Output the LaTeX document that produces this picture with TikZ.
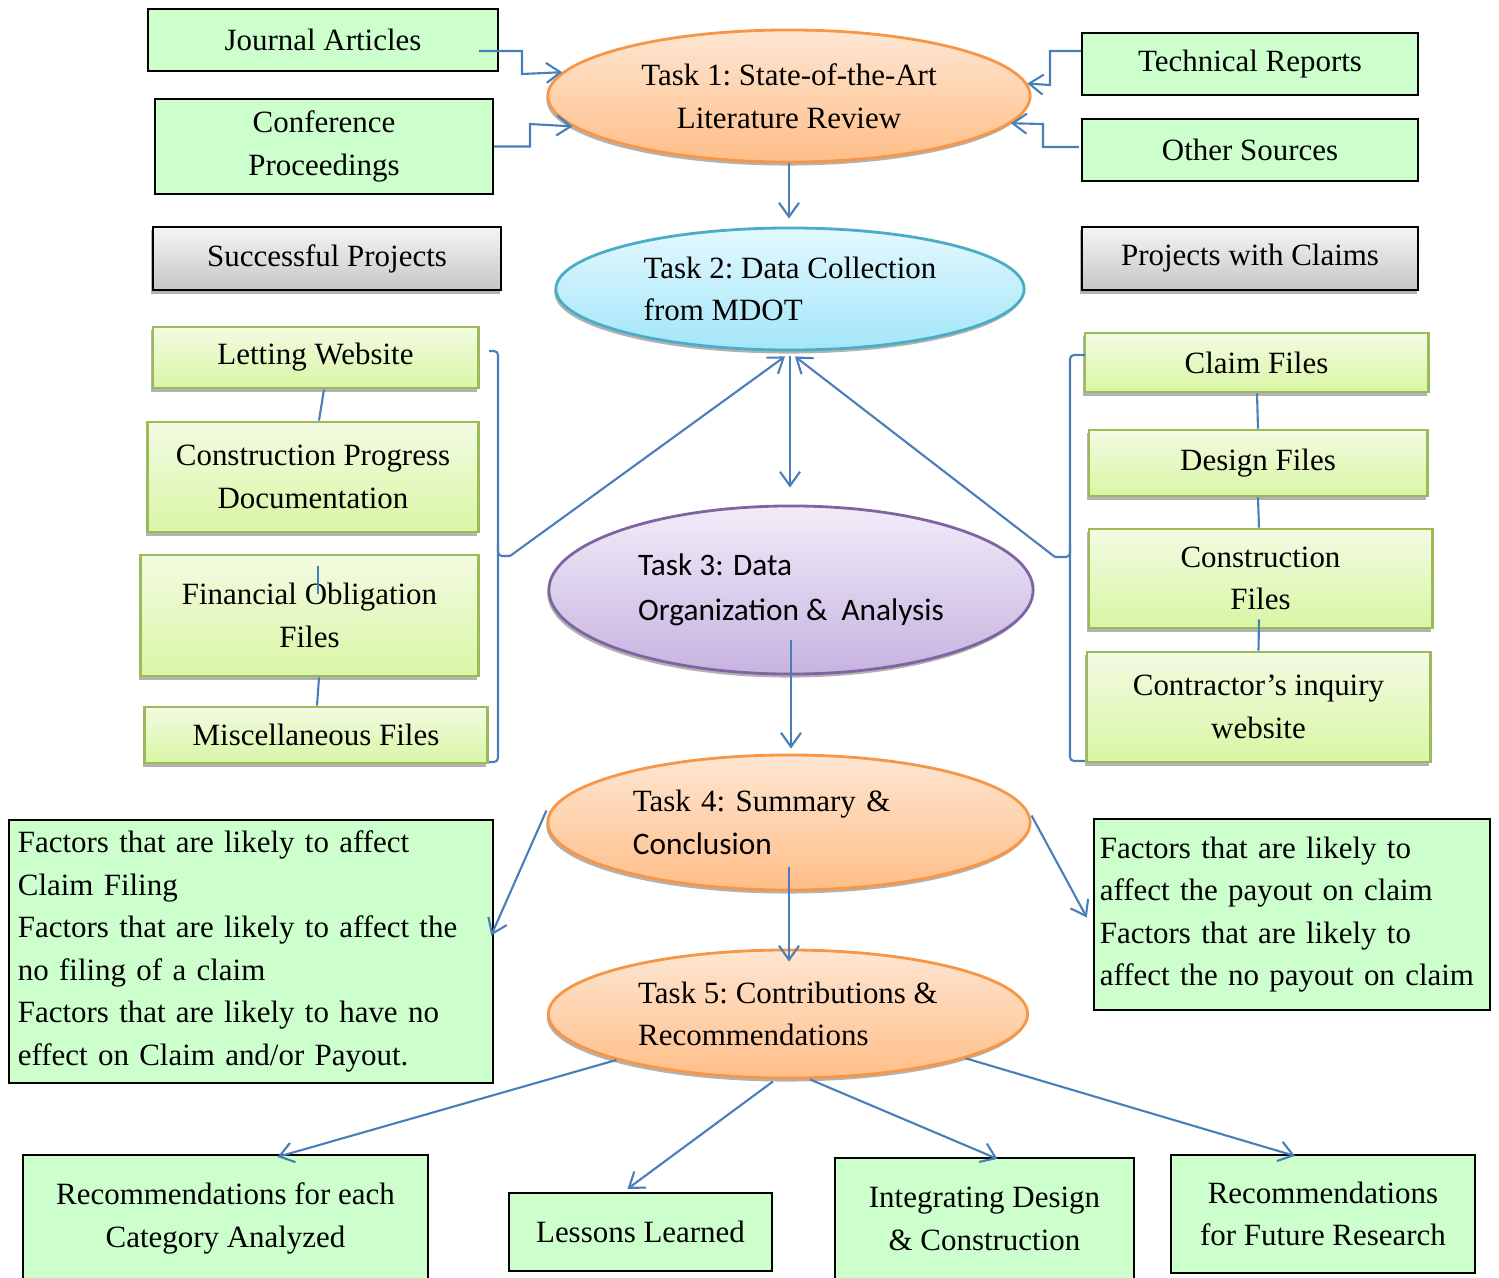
\documentclass[tikz,border=0pt]{standalone}
\usepackage{fontspec}
\setmainfont{Liberation Serif}
\newfontfamily\calibri{Carlito}
\usetikzlibrary{shapes.geometric,arrows.meta,shadows}

\definecolor{linkblue}{HTML}{4A7EBB}
\definecolor{srcgreen}{HTML}{CCFFCC}
\definecolor{filetop}{HTML}{F3FBE2}
\definecolor{filebot}{HTML}{D8F6A4}
\definecolor{fileedge}{HTML}{9BBB59}
\definecolor{orgtop}{HTML}{FEE6D2}
\definecolor{orgbot}{HTML}{FFBE88}
\definecolor{orgedge}{HTML}{F79646}
\definecolor{cyntop}{HTML}{E4F8FE}
\definecolor{cynbot}{HTML}{A2E6F9}
\definecolor{cynedge}{HTML}{4BACC6}
\definecolor{purtop}{HTML}{F1ECF8}
\definecolor{purbot}{HTML}{C6B3E0}
\definecolor{puredge}{HTML}{8064A2}

\begin{document}
\begin{tikzpicture}[x=0.01cm,y=-0.01cm,
	every node/.style={font=\fontsize{8.8}{12.1}\selectfont\frenchspacing, inner sep=0pt},
	castshadow/.style={drop shadow={shadow xshift=-0.015cm, shadow yshift=-0.035cm, fill=black!60}},
	source/.style={draw=black, line width=0.6pt, fill=srcgreen, align=center},
	group/.style={draw=black, line width=0.6pt, top color=gray!8, bottom color=gray!45, castshadow, align=center},
	file/.style={draw=fileedge, line width=0.8pt, top color=filetop, bottom color=filebot, castshadow, align=center},
	task/.style={ellipse, line width=0.8pt, castshadow},
	link/.style={linkblue, line width=0.6pt},
	arr/.style={link, -{Straight Barb[length=0.14cm, width=0.2cm]}},
]
	\useasboundingbox (0,0) rectangle (1499,1278);

	% literature sources
	\node[source, minimum width=3.50cm, minimum height=0.62cm] (journal) at (323,40) {Journal Articles};
	\node[source, minimum width=3.38cm, minimum height=0.95cm] (conf) at (324,146.5) {Conference\\Proceedings};
	\node[source, minimum width=3.36cm, minimum height=0.62cm] (techrep) at (1250,64) {Technical Reports};
	\node[source, minimum width=3.36cm, minimum height=0.62cm] (other) at (1250,150) {Other Sources};

	% the tasks
	\node[task, draw=orgedge, top color=orgtop, bottom color=orgbot, minimum width=4.82cm, minimum height=1.32cm, align=center] (task1) at (789,96) {Task 1: State-of-the-Art\\Literature Review};
	\node[task, draw=cynedge, top color=cyntop, bottom color=cynbot, minimum width=4.68cm, minimum height=1.22cm, align=left] (task2) at (790,289) {Task 2: Data Collection\\from MDOT};
	\node[task, draw=puredge, top color=purtop, bottom color=purbot, minimum width=4.84cm, minimum height=1.68cm, align=left, font=\calibri\fontsize{8.9}{12.8}\selectfont] (task3) at (791,590) {Task 3: Data\\Organization \& \ Analysis};
	\node[task, draw=orgedge, top color=orgtop, bottom color=orgbot, minimum width=4.82cm, minimum height=1.35cm, text width=3.12cm, align=left] (task4) at (789,822.5) {Task 4: Summary \&\\{\calibri\fontsize{8.9}{12.1}\selectfont Conclusion}};
	\node[task, draw=orgedge, top color=orgtop, bottom color=orgbot, minimum width=4.79cm, minimum height=1.28cm, align=left] (task5) at (788,1014) {Task 5: Contributions \&\\Recommendations};

	% project groups
	\node[group, minimum width=3.48cm, minimum height=0.63cm] (success) at (327,258.5) {Successful Projects};
	\node[group, minimum width=3.36cm, minimum height=0.63cm] (claims) at (1250,258.5) {Projects with Claims};

	% files of successful projects
	\node[file, minimum width=3.25cm, minimum height=0.61cm] (letting) at (315.5,357.5) {Letting Website};
	\node[file, minimum width=3.30cm, minimum height=1.10cm] (progress) at (313,477) {Construction Progress\\Documentation};
	\node[file, minimum width=3.37cm, minimum height=1.21cm] (finance) at (309.5,615.5) {Financial Obligation\\Files};
	\node[file, minimum width=3.42cm, minimum height=0.56cm] (misc) at (316,735) {Miscellaneous Files};

	% files of projects with claims
	\node[file, minimum width=3.43cm, minimum height=0.59cm] (claimf) at (1256.5,362.5) {Claim Files};
	\node[file, minimum width=3.38cm, minimum height=0.66cm] (design) at (1258,463) {Design Files};
	\node[file, minimum width=3.43cm, minimum height=0.99cm] (constr) at (1260.5,578.5) {Construction\\Files};
	\node[file, minimum width=3.43cm, minimum height=1.10cm] (inquiry) at (1258.5,707) {Contractor’s inquiry\\website};

	% findings
	\node[source, minimum width=4.84cm, minimum height=2.63cm, text width=4.66cm, inner xsep=0.09cm, align=left] (affect) at (251,951.5) {Factors that are likely to affect\\Claim Filing\\Factors that are likely to affect the\\no filing of a claim\\Factors that are likely to have no\\effect on Claim and/or Payout.};
	\node[source, minimum width=3.96cm, minimum height=1.91cm, text width=3.84cm, inner xsep=0.06cm, align=left] (payout) at (1292,914.5) {Factors that are likely to\\affect the payout on claim\\Factors that are likely to\\affect the no payout on claim};

	% outcomes
	\node[source, minimum width=4.05cm, minimum height=1.27cm] (reccat) at (225.5,1218.5) {Recommendations for each\\Category Analyzed};
	\node[source, minimum width=2.63cm, minimum height=0.78cm] (lessons) at (640.5,1232) {Lessons Learned};
	\node[source, minimum width=2.99cm, minimum height=1.22cm] (integ) at (984.5,1219) {Integrating Design\\\& Construction};
	\node[source, minimum width=3.04cm, minimum height=1.18cm] (future) at (1323,1214) {Recommendations\\for Future Research};

	% sources into task 1
	\draw[arr] ([xshift=-0.2cm,yshift=-0.11cm]journal.east) -| (522,74) -- (task1.174);
	\draw[arr] (conf.east) -| (530,124) -- (task1.188);
	\draw[arr] ([yshift=0.13cm]techrep.west) -| (1050,85) -- (task1.3);
	\draw[arr] ([xshift=-0.02cm,yshift=0.03cm]other.west) -| (1043,124) -- (task1.353);

	\draw[arr] (task1.south) -- ([yshift=0.08cm]task1.south |- task2.north);

	% left column
	\draw[link] ([xshift=0.085cm]letting.south) -- ([xshift=0.06cm]progress.north);
	\draw[link] ([xshift=0.085cm,yshift=-0.12cm]finance.north) -- ++(0,28);
	\draw[link] ([xshift=0.095cm]finance.south) -- ([xshift=0.01cm]misc.north);
	\coordinate (lefttip) at (510,556);
	\draw[link, rounded corners=0.04cm] (489,351) -- (498,351) -- (498,762) -- (489,762);
	\draw[link, rounded corners=0.04cm] (498,545) -- (498,556) -- (lefttip);
	\draw[arr] (lefttip) -- ([xshift=-0.05cm,yshift=-0.05cm]task2.south);

	% right column
	\draw[link] ([xshift=0.005cm]claimf.south) -- (design.north);
	\draw[link] (design.south) -- ([xshift=-0.015cm]constr.north);
	\draw[link] ([xshift=-0.015cm,yshift=0.1cm]constr.south) -- (inquiry.north);
	\coordinate (righttip) at (1055,557);
	\draw[link, rounded corners=0.04cm] (1085,355) -- (1070,355) -- (1070,761) -- (1085,761);
	\draw[link, rounded corners=0.04cm] (1070,545) -- (1070,557) -- (righttip);
	\draw[arr] (righttip) -- ([xshift=0.05cm,yshift=-0.05cm]task2.south);

	% down the tasks
	\draw[arr] ([yshift=-0.05cm]task2.south) -- ([yshift=0.17cm]task2.south |- task3.north);
	\draw[arr] ([yshift=-0.5cm]task3.center) -- ([yshift=0.05cm]task3.center |- task4.north);
	\draw[arr] ([yshift=-0.44cm]task4.center) -- ([yshift=-0.13cm]task4.center |- task5.north);

	% findings of task 4
	\draw[arr] ([yshift=0.12cm]task4.west) -- ([xshift=-0.03cm,yshift=0.16cm]affect.east);
	\draw[arr] ([yshift=0.07cm]task4.east) -- ([xshift=-0.06cm,yshift=-0.03cm]payout.west);

	% outcomes of task 5
	\draw[arr] (task5.195) -- ([xshift=0.52cm,yshift=-0.03cm]reccat.north);
	\draw[arr] ([xshift=-0.15cm,yshift=-0.02cm]task5.south) -- ([xshift=-0.13cm,yshift=0.03cm]lessons.north);
	\draw[arr] ([xshift=0.22cm]task5.south) -- ([xshift=0.13cm,yshift=-0.02cm]integ.north);
	\draw[arr] (task5.346) -- ([xshift=-0.28cm,yshift=-0.02cm]future.north);

\end{tikzpicture}
\end{document}
